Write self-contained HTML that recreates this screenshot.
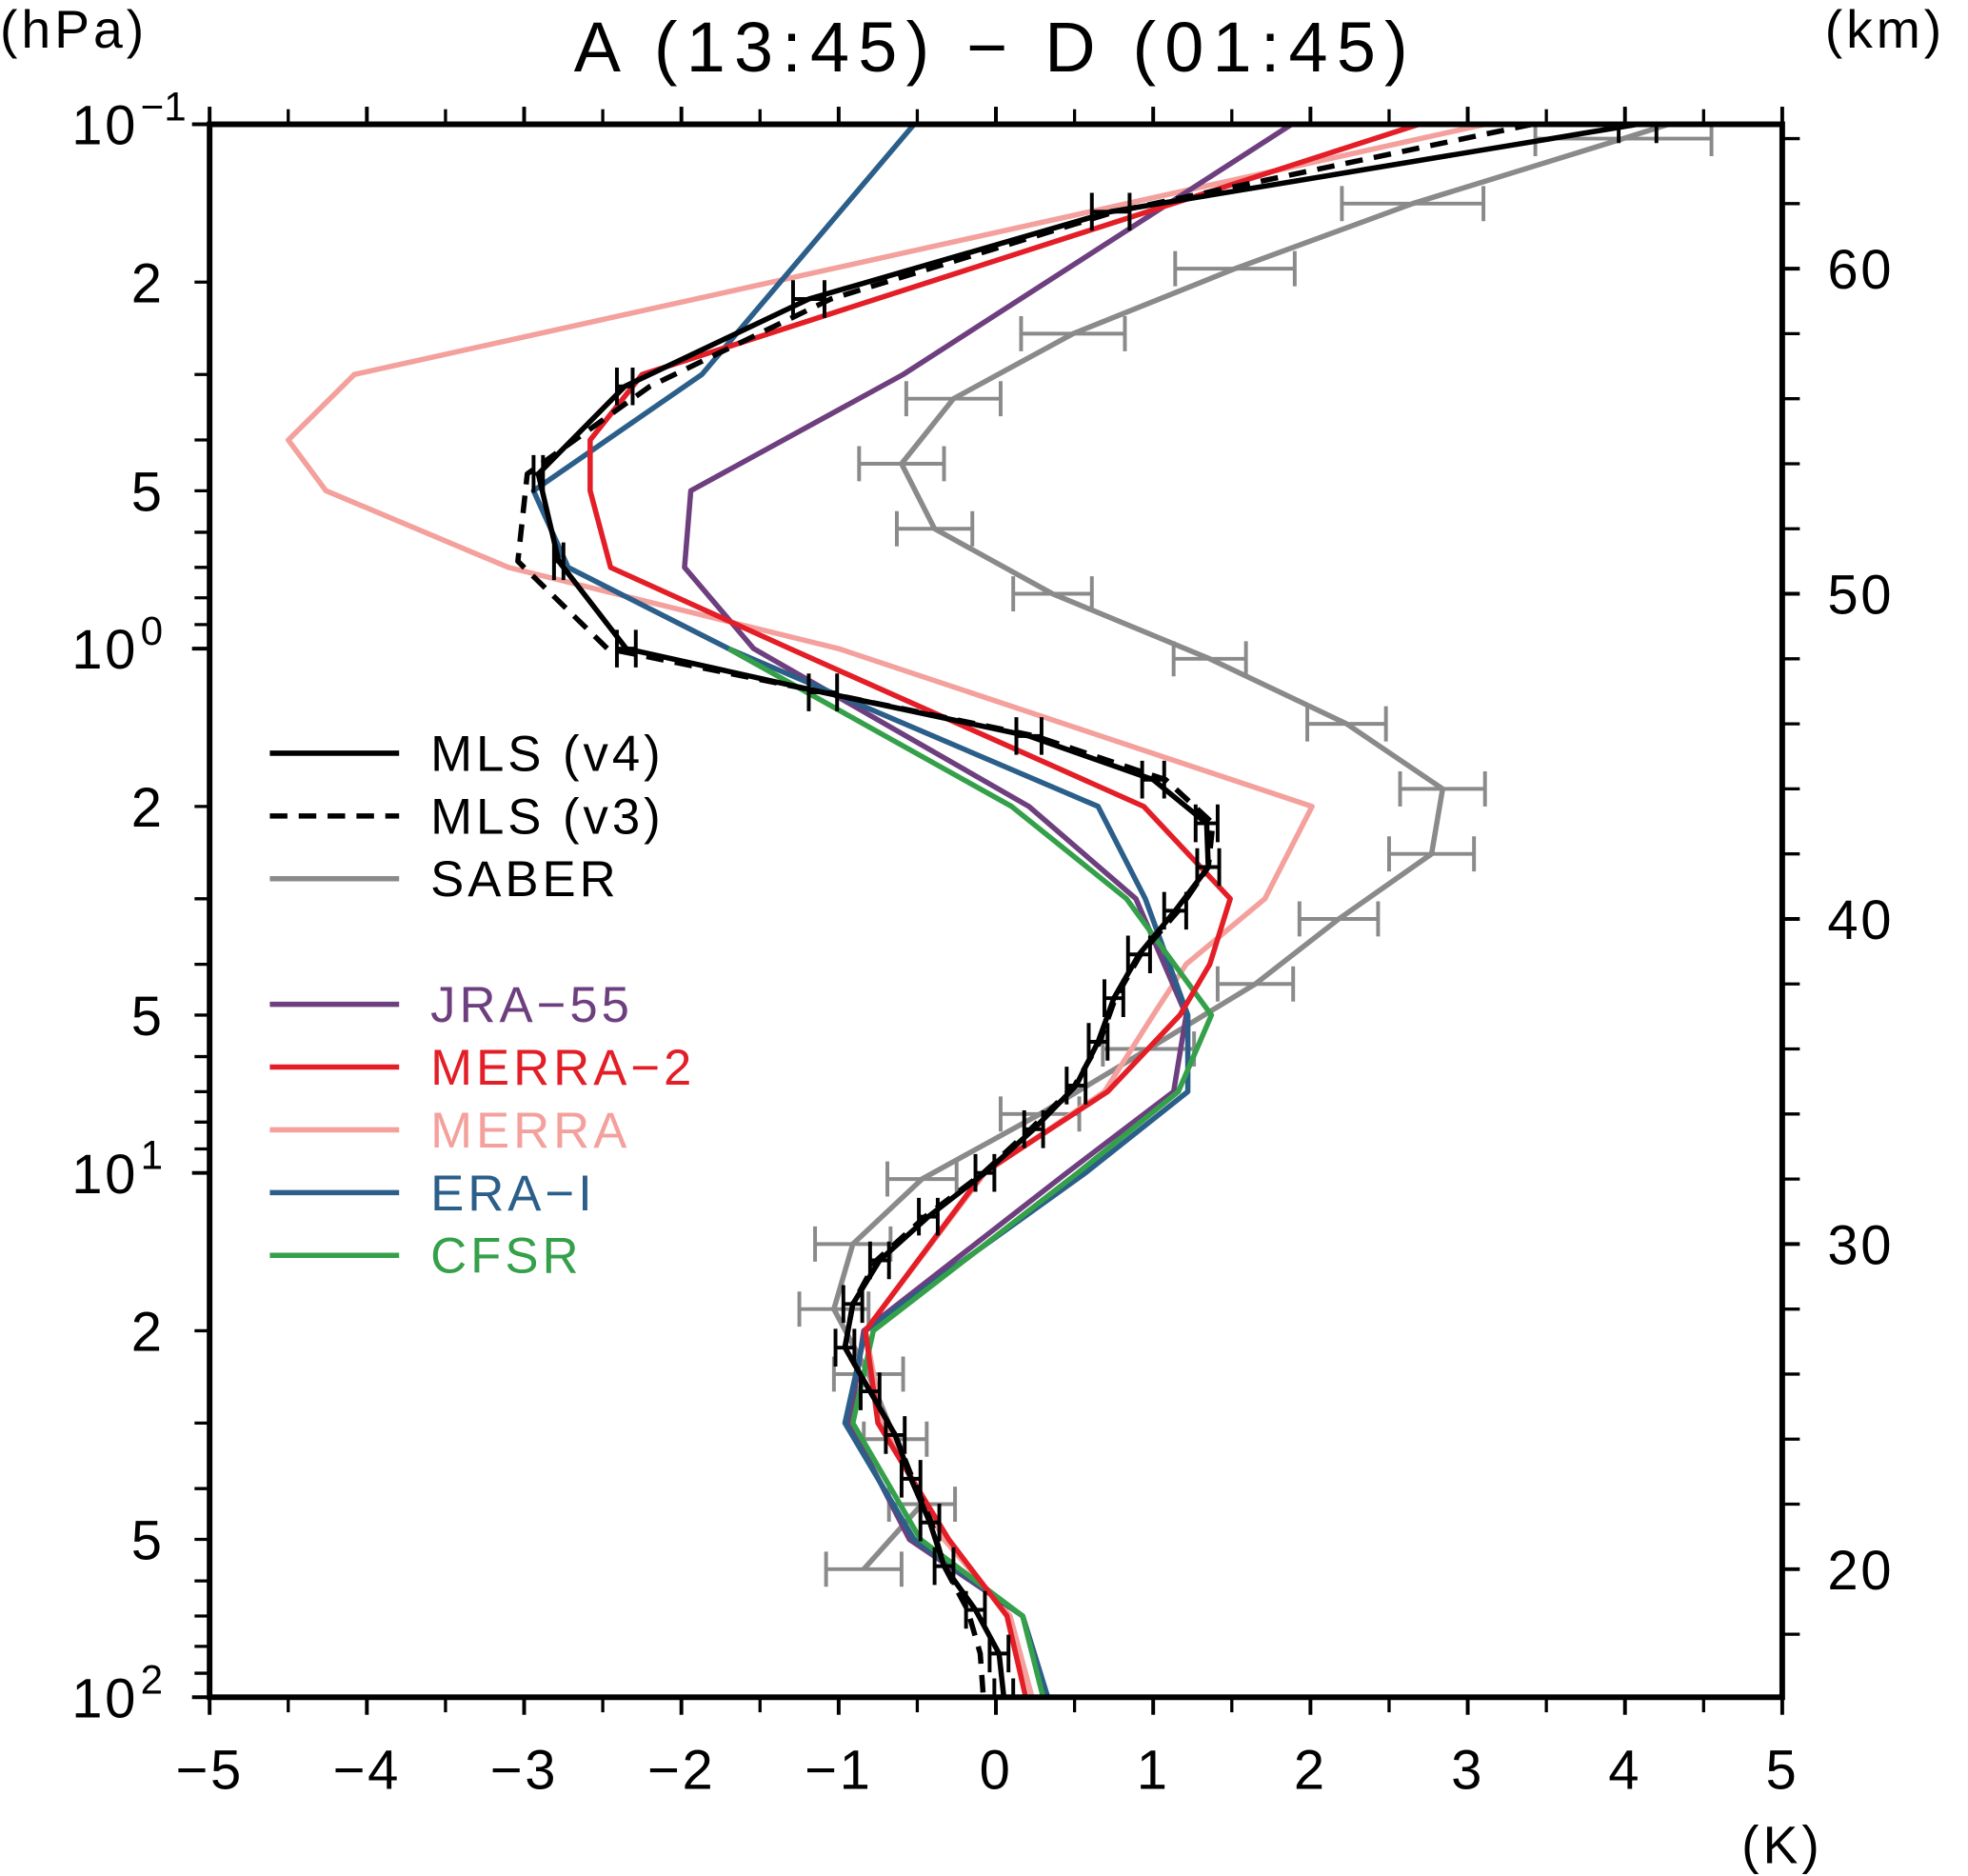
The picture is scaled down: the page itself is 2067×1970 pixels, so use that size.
<!DOCTYPE html>
<html><head><meta charset="utf-8"><style>
html,body{margin:0;padding:0;background:#fff}
svg{display:block}
text{font-family:"Liberation Sans",sans-serif;fill:#000}
</style></head><body>
<svg id="chart" width="2067" height="1970" viewBox="0 0 1568 1494.4" xmlns="http://www.w3.org/2000/svg">
<defs><clipPath id="plotclip"><rect x="167" y="99" width="1253" height="1253"/></clipPath></defs>
<rect x="0" y="0" width="1568" height="1494.4" fill="#fff"/>
<text x="793" y="57" font-size="56" text-anchor="middle" letter-spacing="7">A (13:45) − D (01:45)</text>
<text x="0" y="38" font-size="42" letter-spacing="3">(hPa)</text>
<text x="1454" y="38" font-size="42" letter-spacing="3">(km)</text>
<text x="1420" y="1484" font-size="42" text-anchor="middle" letter-spacing="3">(K)</text>
<g id="grid"></g>
<g id="series" clip-path="url(#plotclip)"></g>
<rect x="167" y="99" width="1253" height="1253" fill="none" stroke="#000" stroke-width="4.5"/>
<g id="legend"></g>
</svg>
<script>
// ---- data ----
const xTicks = [-5,-4,-3,-2,-1,0,1,2,3,4,5];
const yMajor = [0.1,1,10,100];
const yMajorExp = ["−1","0","1","2"];
const yMinorLabels = [2,5];
const kmTicks = [20,30,40,50,60];
const reaP = [0.1,0.2,0.3,0.4,0.5,0.7,1,2,3,4,5,7,10,20,30,50,70,100];
const jraT = [1.88,null,-0.59,null,-1.94,-1.98,-1.54,0.21,0.89,null,1.21,1.13,0.45,-0.84,-0.93,-0.55,0.17,0.33];
const merra2T = [2.69,null,-2.25,-2.58,-2.58,-2.45,-1.31,0.94,1.49,1.36,1.17,0.71,-0.08,-0.83,-0.75,-0.30,0.07,0.19];
const merraT = [3.11,null,-4.08,-4.50,-4.26,-3.10,-1.00,2.01,1.71,1.21,1.00,0.69,-0.07,-0.83,-0.72,-0.33,0.09,0.23];
const eraT = [-0.52,null,-1.87,null,-2.94,-2.72,-1.70,0.65,0.95,null,1.22,1.22,0.57,-0.83,-0.96,-0.52,0.17,0.33];
const cfsrT = [null,null,null,null,null,null,-1.70,0.10,0.83,null,1.37,1.16,0.52,-0.78,-0.91,-0.48,0.17,0.30];
const mlsP = [0.1,0.1468,0.2154,0.3162,0.4642,0.6813,1,1.212,1.468,1.778,2.154,2.610,3.162,3.831,4.642,5.623,6.813,8.254,10,12.12,14.68,17.78,21.54,26.10,31.62,38.31,46.42,56.23,68.13,82.54,100];
const mlsV4T = [4.08,0.73,-1.19,-2.36,-2.91,-2.78,-2.35,-1.10,0.21,1.00,1.34,1.35,1.14,0.91,0.75,0.65,0.51,0.24,-0.07,-0.43,-0.74,-0.91,-0.96,-0.80,-0.64,-0.54,-0.42,-0.33,-0.13,0.02,0.05];
const mlsV3T = [3.41,0.76,-1.05,-2.20,-2.98,-3.04,-2.47,-1.10,0.25,1.08,1.38,1.35,1.16,0.92,0.76,0.66,0.50,0.22,-0.08,-0.45,-0.76,-0.91,-0.96,-0.80,-0.64,-0.53,-0.41,-0.33,-0.18,-0.10,-0.08];
const mlsErr = [0.12,0.12,0.1,0.05,0.03,0.03,0.06,0.09,0.08,0.07,0.07,0.07,0.07,0.07,0.06,0.06,0.06,0.06,0.06,0.06,0.06,0.06,0.06,0.06,0.06,0.06,0.06,0.06,0.06,0.06,0.06];
const saberKm = [66,64,62,60,58,56,54,52,50,48,46,44,42,40,38,36,34,32,30,28,26,24,22,20];
const saberT = [5.3,3.99,2.65,1.52,0.49,-0.27,-0.60,-0.39,0.36,1.36,2.23,2.84,2.77,2.18,1.65,0.97,0.28,-0.47,-0.91,-1.03,-0.81,-0.64,-0.47,-0.84];
const saberErr = [0.5,0.56,0.45,0.38,0.33,0.30,0.27,0.24,0.25,0.23,0.25,0.27,0.27,0.25,0.24,0.29,0.25,0.22,0.24,0.22,0.22,0.20,0.21,0.24];
const legendNames = ["MLS (v4)","MLS (v3)","SABER","JRA−55","MERRA−2","MERRA","ERA−I","CFSR"];

// ---- axes ----
const X0=167, X1=1420, Y0=99, Y1=1352;
const xs = t => X0 + (t+5)/10*(X1-X0);
const ys = p => Y0 + (Math.log10(p)+1)/3*(Y1-Y0);
const yk = km => 214 + (60-km)*25.9;
const NS="http://www.w3.org/2000/svg";
function mk(tag, attrs, parent){const e=document.createElementNS(NS,tag);for(const k in attrs)e.setAttribute(k,attrs[k]);parent.appendChild(e);return e;}
const grid=document.getElementById('grid'), ser=document.getElementById('series'), leg=document.getElementById('legend');

xTicks.forEach((t,i)=>{
  const x=xs(t);
  const a=mk('line',{x1:x,y1:Y1,x2:x,y2:Y1+14,stroke:'#000','stroke-width':3},grid);
  
  
  const b=mk('line',{x1:x,y1:Y0,x2:x,y2:Y0-14,stroke:'#000','stroke-width':3},grid);
  
  
  if(i<xTicks.length-1){
    const xm=xs(t+0.5);
    const c=mk('line',{x1:xm,y1:Y1,x2:xm,y2:Y1+12,stroke:'#000','stroke-width':2.5},grid);
    
    
    const d=mk('line',{x1:xm,y1:Y0,x2:xm,y2:Y0-12,stroke:'#000','stroke-width':2.5},grid);
    
    
  }
  const tx=mk('text',{x:x,y:1425,'font-size':44,'text-anchor':'middle','letter-spacing':2},grid);
  tx.textContent = t<0 ? '−'+Math.abs(t) : String(t);
  
  
});

yMajor.forEach((p,i)=>{
  const y=ys(p);
  const t=mk('line',{x1:X0,y1:y,x2:X0-14,y2:y,stroke:'#000','stroke-width':3},grid);
  
  
  const tx=mk('text',{x:110,y:y+16,'font-size':44,'text-anchor':'end','letter-spacing':2},grid);
  tx.textContent='10';
  
  
  const sup=mk('text',{x:112,y:y-3,'font-size':32,'text-anchor':'start'},grid);
  sup.textContent=yMajorExp[i];
  
  
  if(i<yMajor.length-1){
    for(let m=2;m<=9;m++){
      const ym=ys(p*m);
      const mt=mk('line',{x1:X0,y1:ym,x2:X0-12,y2:ym,stroke:'#000','stroke-width':2.5},grid);
      
      
    }
    yMinorLabels.forEach(m=>{
      const l=mk('text',{x:129,y:ys(p*m)+16,'font-size':44,'text-anchor':'end'},grid);
      l.textContent=String(m);
      
      
    });
  }
});

for(let km=18;km<=64;km+=2){
  const y=yk(km);
  const t=mk('line',{x1:X1,y1:y,x2:X1+14,y2:y,stroke:'#000','stroke-width':km%10===0?3:2.5},grid);
  
  
}
kmTicks.forEach(km=>{
  const l=mk('text',{x:1456,y:yk(km)+16,'font-size':44,'letter-spacing':2},grid);
  l.textContent=String(km);
  
  
});

// ---- series ----
function line(vals, ysFn, levels, color, name, dash){
  const pts=[];
  vals.forEach((v,i)=>{ if(v!==null) pts.push(xs(v).toFixed(1)+','+ysFn(levels[i]).toFixed(1)); });
  const pl=mk('polyline',{points:pts.join(' '),fill:'none',stroke:color,'stroke-width':4.2,'stroke-linejoin':'round'},ser);
  if(dash) pl.setAttribute('stroke-dasharray',dash);
  
  
}
function errbars(vals, errs, ysFn, levels, color, name, cap, w){
  vals.forEach((v,i)=>{
    const y=ysFn(levels[i]), xa=xs(v-errs[i]), xb=xs(v+errs[i]);
    const d=`M${xa},${y}H${xb}M${xa},${y-cap}V${y+cap}M${xb},${y-cap}V${y+cap}`;
    const p=mk('path',{d:d,fill:'none',stroke:color,'stroke-width':w},ser);
    
    
  });
}
errbars(saberT, saberErr, yk, saberKm, '#8a8a8a', 'saber-error-bar', 14, 3);
line(saberT, yk, saberKm, '#8a8a8a', 'saber-line');
line(merraT, ys, reaP, '#f4a09c', 'merra-line');
line(jraT, ys, reaP, '#6e3f7f', 'jra55-line');
line(eraT, ys, reaP, '#2b5f8a', 'era-i-line');
line(cfsrT, ys, reaP, '#35a04a', 'cfsr-line');
line(merra2T, ys, reaP, '#e31e27', 'merra2-line');
errbars(mlsV4T, mlsErr, ys, mlsP, '#000', 'mls-v4-error-bar', 15, 3);
line(mlsV3T, ys, mlsP, '#000', 'mls-v3-line', '14,9');
line(mlsV4T, ys, mlsP, '#000', 'mls-v4-line');

// ---- legend ----
const legendColors = ['#000','#000','#8a8a8a','#6e3f7f','#e31e27','#f4a09c','#2b5f8a','#35a04a'];
const legendTextColors = ['#000','#000','#000','#6e3f7f','#e31e27','#f4a09c','#2b5f8a','#35a04a'];
const legendY = [600,650,700,800,850,900,950,1000];
legendNames.forEach((n,i)=>{
  const g=mk('g',{},leg);
  
  
  const l=mk('line',{x1:215,y1:legendY[i],x2:318,y2:legendY[i],stroke:legendColors[i],'stroke-width':4.2},g);
  if(i===1) l.setAttribute('stroke-dasharray','14,9');
  
  
  const t=mk('text',{x:343,y:legendY[i]+14,'font-size':40,'letter-spacing':3},g);
  t.setAttribute('style','fill:'+legendTextColors[i]);
  t.textContent=n;
  
  
});
</script>
</body></html>
